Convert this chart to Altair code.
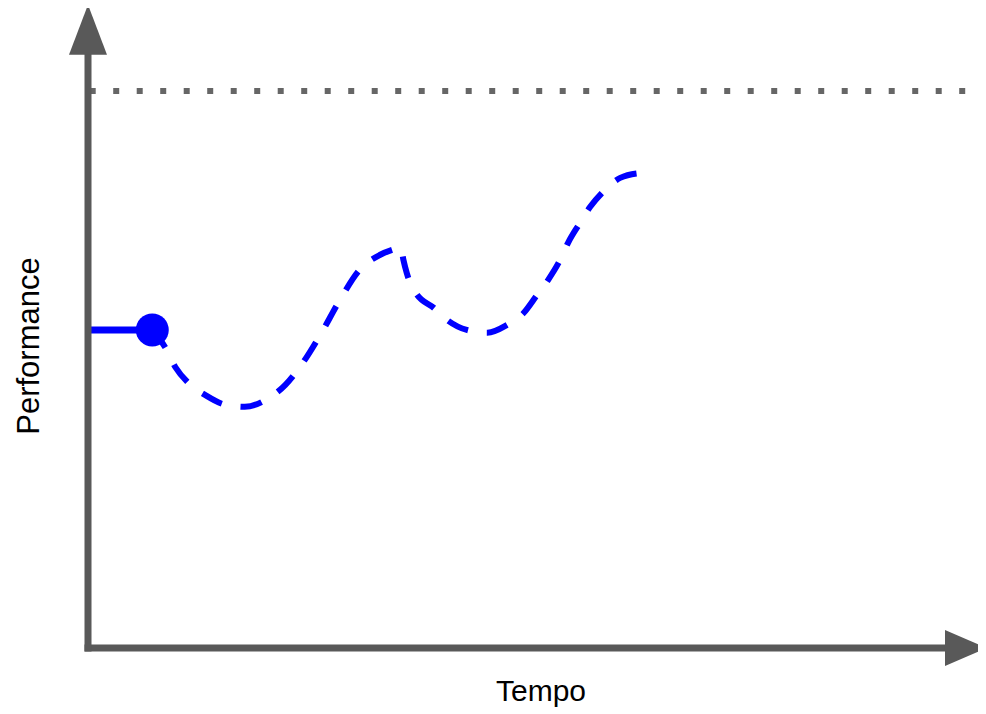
import altair as alt
import pandas as pd

# Blue performance curve (Tempo, Performance)
curve_t = [7.5, 9.0, 10.2, 11.7, 13.7, 16.2, 18.3, 20.9, 23.0, 24.7, 27.1, 29.4, 31.7,
           34.1, 36.1, 36.5, 36.8, 37.2, 38.2, 40.4, 41.9, 44.2, 46.6, 48.9, 50.8, 52.4,
           53.7, 55.1, 56.0, 57.4, 58.6, 60.3, 62.1, 64.6]
curve_p = [57.1, 54.0, 50.4, 47.6, 45.4, 43.6, 43.3, 44.7, 47.2, 50.4, 56.2, 62.5, 67.9,
           70.6, 71.8, 72.0, 69.7, 67.3, 63.9, 61.0, 58.9, 57.1, 56.6, 58.0, 60.1, 63.4,
           66.1, 69.7, 72.7, 76.3, 79.2, 82.2, 84.4, 85.3]

# Solid start segment and start point
start_t = [0.0, 7.4]
start_p = [57.1, 57.1]

# Target (dotted) level
target_p = 100
target_t = [0.2, 105.0]

# Axis extents
x_axis_t = [0.0, 100.0]
y_axis_p = [0.0, 106.5]
x_arrow = {"t": 102.45, "p": 0.0}
y_arrow = {"t": 0.0, "p": 111.0}

x_label = "Tempo"
y_label = "Performance"

GRAY = "#595959"
BLUE = "#0000FF"

xs = alt.Scale(domain=[0, 100], range=[80, 937])
ys = alt.Scale(domain=[0, 100], range=[640, 83])

X = lambda f: alt.X(f, type="quantitative", scale=xs, axis=None)
Y = lambda f: alt.Y(f, type="quantitative", scale=ys, axis=None)

curve_df = pd.DataFrame({"t": curve_t, "p": curve_p})
start_df = pd.DataFrame({"t": start_t, "p": start_p})
dot_df = pd.DataFrame({"t": [start_t[1] + 0.1], "p": [start_p[1]]})
target_df = pd.DataFrame({"t": [target_t[0]], "t2": [target_t[1]], "p": [target_p]})
xaxis_df = pd.DataFrame({"t": [x_axis_t[0]], "t2": [x_axis_t[1]], "p": [0.0]})
yaxis_df = pd.DataFrame({"t": [0.0], "p": [y_axis_p[0]], "p2": [y_axis_p[1]]})
xarrow_df = pd.DataFrame([x_arrow])
yarrow_df = pd.DataFrame([y_arrow])

target = alt.Chart(target_df).mark_rule(
    color="#666666", strokeWidth=6, strokeDash=[6, 17.5]
).encode(x=X("t"), x2="t2", y=Y("p"))

xaxis = alt.Chart(xaxis_df).mark_rule(
    color=GRAY, strokeWidth=7, strokeCap="square"
).encode(x=X("t"), x2="t2", y=Y("p"))

yaxis = alt.Chart(yaxis_df).mark_rule(
    color=GRAY, strokeWidth=7, strokeCap="square"
).encode(x=X("t"), y=Y("p"), y2="p2")

xarrow = alt.Chart(xarrow_df).mark_point(
    shape="M-1,-0.857L1,0L-1,0.857Z", size=1764, filled=True, color=GRAY, opacity=1
).encode(x=X("t"), y=Y("p"))

yarrow = alt.Chart(yarrow_df).mark_point(
    shape="M0,-1L0.76,1L-0.76,1Z", size=2500, filled=True, color=GRAY, opacity=1
).encode(x=X("t"), y=Y("p"))

curve = alt.Chart(curve_df).mark_line(
    color=BLUE, strokeWidth=6, strokeDash=[22, 19], interpolate="monotone"
).encode(x=X("t"), y=Y("p"), order="t:Q")

start = alt.Chart(start_df).mark_line(
    color=BLUE, strokeWidth=7
).encode(x=X("t"), y=Y("p"))

dot = alt.Chart(dot_df).mark_point(
    shape="circle", size=1089, filled=True, color=BLUE, opacity=1
).encode(x=X("t"), y=Y("p"))

tx = alt.Chart(pd.DataFrame({"label": [x_label]})).mark_text(
    font="Liberation Sans", fontSize=30, color="black", baseline="alphabetic", align="center"
).encode(x=alt.value(533), y=alt.value(693), text="label:N")

ty = alt.Chart(pd.DataFrame({"label": [y_label]})).mark_text(
    font="Liberation Sans", fontSize=31, color="black", baseline="alphabetic", align="center",
    angle=270
).encode(x=alt.value(31), y=alt.value(338), text="label:N")

chart = alt.layer(
    target, curve, start, dot, xaxis, yaxis, xarrow, yarrow, tx, ty
).properties(
    width=970, height=706, padding=0, autosize="none"
).configure_view(stroke=None)

chart.save("out.html", embed_options={"renderer": "svg", "actions": False})
